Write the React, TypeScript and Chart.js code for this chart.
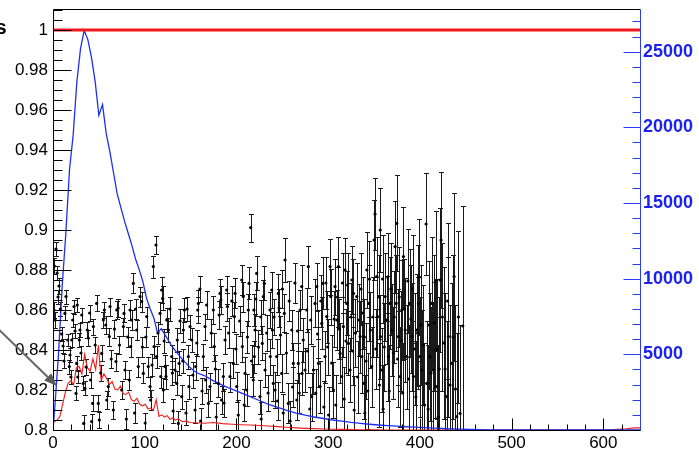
import React, { useEffect, useRef } from 'react';
import { Chart, registerables } from 'chart.js';

Chart.register(...registerables);

const FONT = "'Liberation Sans', Arial, Helvetica, sans-serif";

// axis ranges
const X_MIN = 0;
const X_MAX = 640;
const Y_MIN = 0.8;
const Y_MAX = 1.0105;
const Y2_MIN = 0;
const Y2_MAX = 27820;

// tick labels
const xTicks = [0, 100, 200, 300, 400, 500, 600];
const xTickLabels = ['0', '100', '200', '300', '400', '500', '600'];
const yTicks = [0.8, 0.82, 0.84, 0.86, 0.88, 0.9, 0.92, 0.94, 0.96, 0.98, 1.0];
const yTickLabels = ['0.8', '0.82', '0.84', '0.86', '0.88', '0.9', '0.92', '0.94', '0.96', '0.98', '1'];
const y2Ticks = [5000, 10000, 15000, 20000, 25000];
const y2TickLabels = ['5000', '10000', '15000', '20000', '25000'];

// reference level (red line)
const refLevel = 1;

// blue histogram: fine bins of width 4 starting at 0, then coarse bins of width 10 starting at 160
const blueFineStart = 0;
const blueFineWidth = 4;
const blueFine = [
  1500, 5000, 9500, 13000, 17200, 19500, 23000, 25200, 26400, 25800,
  24600, 23000, 20800, 21500, 19600, 18400, 17000, 15600, 14700, 13800,
  13000, 12200, 11300, 10600, 9800, 8700, 8000, 7400, 6400, 6700,
  6300, 5900, 5500, 5200, 4900, 4600, 4350, 4100, 3900, 3750,
];
const blueCoarseStart = 160;
const blueCoarseWidth = 10;
const blueCoarse = [
  3600, 3250, 2950, 2700, 2450, 2200, 1950, 1700, 1500, 1300,
  1120, 980, 860, 760, 660, 580, 500, 440, 380, 330,
  290, 250, 215, 185, 155, 125, 100, 75, 55, 35,
  20, 10,
];

// red histogram: fine bins of width 3 from 0, coarse width 10 from 150, tail near the right edge
const redFineStart = 0;
const redFineWidth = 3;
const redFine = [
  550, 650, 900, 1700, 2500, 3100, 3250, 3000, 4100, 4200,
  3700, 5000, 4100, 3900, 4700, 4000, 5600, 3300, 3700, 3400,
  3000, 3200, 2700, 2650, 2900, 2400, 2350, 2500, 2000, 1900,
  2100, 1700, 1600, 1700, 1400, 1450, 1300, 2000, 900, 1000,
  850, 950, 700, 800, 650, 750, 600, 550, 600, 500,
];
const redCoarseStart = 150;
const redCoarseWidth = 10;
const redCoarse = [
  480, 450, 500, 420, 380, 350, 330, 300, 260, 220,
  180, 140, 110, 90, 70, 50, 40, 30, 20, 10, 5,
];
const redTailStart = 600;
const redTailWidth = 10;
const redTail = [0, 40, 80, 140];

// black points with error bars: [x, y, error]
const ptsA: [number, number, number][] = [
  [1.5, 0.882, 0.004], [3.3, 0.8905, 0.0035], [4.5, 0.8785, 0.0035], [1.0, 0.86, 0.004],
  [2.2, 0.855, 0.004], [6.5, 0.872, 0.004], [9.5, 0.848, 0.0035], [11, 0.842, 0.0035],
  [13, 0.8583, 0.0035], [14.2, 0.8667, 0.0035], [16, 0.845, 0.003], [17.8, 0.8317, 0.0035],
  [18.5, 0.8375, 0.0035], [20.4, 0.845, 0.0035], [21.5, 0.855, 0.0035], [22.9, 0.8617, 0.0035],
  [25.1, 0.8183, 0.0035], [25.8, 0.8333, 0.0035], [27, 0.8265, 0.003], [28.7, 0.845, 0.0035],
  [29.4, 0.85, 0.0035], [31.3, 0.8575, 0.0035], [33, 0.8233, 0.0035], [33.5, 0.8033, 0.004],
  [34.9, 0.8208, 0.0035], [37.4, 0.85, 0.004], [38.5, 0.846, 0.004], [41, 0.825, 0.004],
  [42.1, 0.8042, 0.004], [43.2, 0.8133, 0.004], [44, 0.8517, 0.004], [47.6, 0.8633, 0.004],
  [49.4, 0.8133, 0.004], [50.5, 0.805, 0.004], [53.1, 0.8383, 0.004], [54.9, 0.855, 0.004],
  [56, 0.86, 0.004], [58.6, 0.815, 0.0045], [60.3, 0.8217, 0.0045], [61.4, 0.8467, 0.0045],
  [62.2, 0.8617, 0.0045], [65.8, 0.81, 0.0045], [68.7, 0.8342, 0.0045], [69.5, 0.86, 0.0045],
  [71, 0.861, 0.0045], [74.9, 0.82, 0.0045], [76.7, 0.8517, 0.0045], [77.4, 0.8583, 0.0045],
  [78.5, 0.83, 0.0045], [80, 0.8055, 0.005], [83.2, 0.825, 0.005], [84, 0.86, 0.005],
  [84.7, 0.8417, 0.005], [85.8, 0.855, 0.005], [87.6, 0.8733, 0.005], [89, 0.8085, 0.005],
  [91.3, 0.85, 0.005], [93, 0.8317, 0.005], [94.9, 0.8667, 0.005], [96.7, 0.8642, 0.005],
  [98.5, 0.8283, 0.005], [100.5, 0.8035, 0.005], [102.2, 0.8567, 0.005], [103.9, 0.8317, 0.005],
  [105.8, 0.8217, 0.005], [106.5, 0.815, 0.005], [109.4, 0.8817, 0.0055], [110.2, 0.8417, 0.0055],
  [112.3, 0.8925, 0.0045], [113, 0.8367, 0.0055], [116.7, 0.8583, 0.0055], [117.5, 0.8267, 0.0055],
  [118.5, 0.87, 0.0065], [119.6, 0.8658, 0.006], [120.3, 0.82, 0.006], [122.1, 0.8317, 0.006],
  [123.2, 0.8267, 0.006], [124, 0.855, 0.006], [125.8, 0.85, 0.006], [129.4, 0.8367, 0.006],
  [131, 0.8095, 0.006], [133, 0.83, 0.006], [134.9, 0.8233, 0.006], [135.5, 0.845, 0.006],
  [136.6, 0.8033, 0.006], [137.5, 0.8333, 0.006],
  [5.5, 0.8665, 0.0035], [8, 0.8605, 0.0035], [12, 0.8345, 0.0035], [19.5, 0.8265, 0.0035],
  [24, 0.8495, 0.0035], [26.5, 0.8625, 0.0035], [30.5, 0.8385, 0.0035], [36, 0.8315, 0.004],
  [40, 0.8585, 0.004], [46, 0.8425, 0.004], [52, 0.8285, 0.004], [57.5, 0.8525, 0.0045],
  [63.5, 0.8355, 0.0045], [67, 0.8505, 0.0045], [72.5, 0.8425, 0.0045], [81.5, 0.8465, 0.005],
  [90, 0.8605, 0.005], [97.5, 0.8415, 0.005], [101.3, 0.8465, 0.005], [108, 0.8325, 0.0055],
  [114.5, 0.8485, 0.0055], [121.2, 0.8445, 0.006], [127.5, 0.8605, 0.006], [130.2, 0.8285, 0.006],
  [138.5, 0.8545, 0.006],
];
const ptsB: [number, number, number][] = [
  [140.3, 0.8167, 0.006], [142.1, 0.85, 0.006], [143.2, 0.86, 0.006], [145, 0.8085, 0.006],
  [147.6, 0.8367, 0.006], [148.2, 0.8217, 0.006], [149.4, 0.8517, 0.006], [151.3, 0.845, 0.006],
  [154.9, 0.81, 0.0065], [155.6, 0.8317, 0.0065], [157.8, 0.86, 0.0065], [158.5, 0.8633, 0.0065],
  [161, 0.8045, 0.0065], [163.9, 0.8367, 0.0065], [165.8, 0.8517, 0.0065], [166.5, 0.825, 0.0065],
  [169.4, 0.8133, 0.007], [171.2, 0.8217, 0.007], [174.8, 0.86, 0.007], [175.9, 0.8417, 0.007],
  [178, 0.8065, 0.007], [180.3, 0.8233, 0.007], [182.1, 0.8683, 0.007], [183, 0.865, 0.007],
  [183.8, 0.815, 0.007], [185.7, 0.8267, 0.007], [187.6, 0.845, 0.007], [189.4, 0.87, 0.007],
  [190.2, 0.8617, 0.007], [193, 0.8267, 0.0075], [196.6, 0.8333, 0.0075], [197.7, 0.8567, 0.0075],
  [198.5, 0.8683, 0.0075], [200.3, 0.8217, 0.0075], [202, 0.8075, 0.0075], [205.8, 0.875, 0.0075],
  [206.5, 0.8417, 0.0075], [207.5, 0.8667, 0.0075], [209.4, 0.8283, 0.008], [211.2, 0.82, 0.008],
  [213, 0.86, 0.008], [213.7, 0.8733, 0.008], [215.6, 0.9012, 0.007], [218.4, 0.825, 0.008],
  [219, 0.86, 0.008], [219.5, 0.8367, 0.008], [220.3, 0.85, 0.008], [222.1, 0.8783, 0.0085],
  [225.7, 0.8167, 0.0085], [227, 0.8055, 0.0085], [228.2, 0.8433, 0.0085], [229.3, 0.8667, 0.0085],
  [230.4, 0.8733, 0.0085], [231.2, 0.83, 0.0085], [236.6, 0.86, 0.009], [236.9, 0.8367, 0.009],
  [238.5, 0.87, 0.009], [239.2, 0.85, 0.009], [240.2, 0.8233, 0.009], [242.1, 0.82, 0.009],
  [243.9, 0.8367, 0.009], [245.7, 0.8683, 0.0095], [246.5, 0.861, 0.0095], [249.4, 0.8283, 0.0095],
  [251, 0.8085, 0.0095], [252.2, 0.8583, 0.0095], [253, 0.885, 0.011], [256.6, 0.8133, 0.01],
  [258.5, 0.8045, 0.01], [260.3, 0.85, 0.01], [262, 0.8333, 0.01], [265.8, 0.815, 0.01],
  [267.5, 0.8333, 0.01], [269.4, 0.86, 0.01],
  [141.5, 0.8345, 0.006], [146.2, 0.8605, 0.006], [152.5, 0.8275, 0.0065], [156.8, 0.8435, 0.0065],
  [160.2, 0.8705, 0.0065], [162.5, 0.8195, 0.0065], [167.5, 0.8625, 0.007], [172.5, 0.8485, 0.007],
  [177, 0.8305, 0.007], [181.2, 0.8575, 0.007], [186.5, 0.8135, 0.007], [191.5, 0.8485, 0.0075],
  [195, 0.8645, 0.0075], [199.5, 0.8405, 0.0075], [203.5, 0.8545, 0.0075], [208.5, 0.8125, 0.008],
  [212, 0.8465, 0.008], [216.5, 0.8345, 0.008], [221.2, 0.8655, 0.0085], [224, 0.8415, 0.0085],
  [226.5, 0.8565, 0.0085], [233, 0.8485, 0.009], [234.5, 0.8185, 0.009], [241, 0.8565, 0.009],
  [244.8, 0.8145, 0.0095], [248, 0.8475, 0.0095], [250.2, 0.8705, 0.0095], [254.5, 0.8385, 0.01],
  [257.5, 0.8645, 0.01], [261.2, 0.8215, 0.01], [263.8, 0.8735, 0.01], [266.6, 0.8495, 0.01],
  [268.5, 0.8185, 0.01],
];
const ptsC: [number, number, number][] = [
  [271.2, 0.8717, 0.011], [271.5, 0.8283, 0.011], [274.8, 0.83, 0.011], [276.6, 0.86, 0.011],
  [278.4, 0.8817, 0.0105], [280, 0.8105, 0.011], [282.1, 0.8167, 0.012], [283.9, 0.83, 0.012],
  [285.7, 0.8633, 0.012], [287.6, 0.8717, 0.012], [289.4, 0.8333, 0.012], [291.2, 0.8217, 0.013],
  [293, 0.8533, 0.013], [294.1, 0.8733, 0.013], [296.6, 0.8367, 0.013], [298.5, 0.8567, 0.013],
  [300.5, 0.8075, 0.014], [302.1, 0.8817, 0.014], [302.8, 0.8667, 0.014], [305.7, 0.82, 0.014],
  [307.5, 0.8717, 0.014], [309.4, 0.855, 0.015], [311.2, 0.8817, 0.015], [313, 0.8383, 0.015],
  [314.8, 0.8267, 0.015], [316.6, 0.8517, 0.015], [318.4, 0.88, 0.016], [320.3, 0.8633, 0.016],
  [322.1, 0.8433, 0.016], [323.9, 0.83, 0.016], [325.8, 0.875, 0.017], [327.6, 0.8683, 0.017],
  [328.4, 0.81, 0.017], [331.2, 0.8667, 0.017], [333.1, 0.855, 0.018], [334.9, 0.8467, 0.018],
  [336.8, 0.8367, 0.018], [338.6, 0.8233, 0.018], [340, 0.8085, 0.019], [342.2, 0.88, 0.019],
  [344.1, 0.8633, 0.019], [346, 0.85, 0.019], [347.5, 0.8317, 0.02], [350.1, 0.895, 0.02],
  [351.1, 0.908, 0.018], [353, 0.8767, 0.02], [353.7, 0.8567, 0.02], [356.8, 0.9, 0.021],
  [357, 0.8467, 0.021], [358.4, 0.83, 0.021], [360, 0.8105, 0.022], [362.1, 0.8667, 0.022],
  [363.9, 0.855, 0.022], [365.7, 0.8367, 0.022], [367.5, 0.8633, 0.023], [369.4, 0.85, 0.023],
  [373, 0.8917, 0.023], [374.8, 0.9033, 0.024], [374.1, 0.8633, 0.024], [376.6, 0.8467, 0.024],
  [378.4, 0.8267, 0.025], [380.3, 0.86, 0.025], [382.1, 0.8867, 0.025], [384, 0.85, 0.026],
  [385.8, 0.8367, 0.026], [388.7, 0.8633, 0.027], [391.1, 0.8467, 0.027], [393, 0.8267, 0.028],
  [396.6, 0.85, 0.028], [398.5, 0.8633, 0.029], [400.2, 0.8367, 0.03], [402, 0.83, 0.03],
  [406.8, 0.903, 0.0255], [407.5, 0.8233, 0.031], [409, 0.8105, 0.032], [411.1, 0.8367, 0.032],
  [413, 0.8633, 0.033], [414.7, 0.83, 0.034], [416.6, 0.84, 0.034], [418.4, 0.8217, 0.035],
  [420, 0.8065, 0.036], [422, 0.875, 0.036], [423.1, 0.895, 0.034], [426, 0.8435, 0.038],
  [429.3, 0.8167, 0.038], [431.1, 0.8467, 0.04], [434.8, 0.8333, 0.04], [437.3, 0.8767, 0.042],
  [440.2, 0.8067, 0.042], [443.8, 0.8083, 0.044], [446.8, 0.852, 0.06],
  [272.8, 0.845, 0.011], [277.5, 0.8395, 0.011], [281, 0.855, 0.012], [286.5, 0.8185, 0.012],
  [288.5, 0.848, 0.012], [292, 0.8645, 0.013], [295.3, 0.8115, 0.013], [297.5, 0.8735, 0.013],
  [299.5, 0.8415, 0.014], [303.8, 0.8335, 0.014], [306.5, 0.8555, 0.014], [308.3, 0.8125, 0.015],
  [310.3, 0.8665, 0.015], [312.1, 0.8505, 0.015], [315.7, 0.8735, 0.015], [317.5, 0.8155, 0.016],
  [319.4, 0.8445, 0.016], [321.2, 0.8725, 0.016], [324.9, 0.8565, 0.017], [326.7, 0.8395, 0.017],
  [329.8, 0.8485, 0.017], [332.2, 0.8265, 0.018], [335.8, 0.8705, 0.018], [337.7, 0.8585, 0.018],
  [339.5, 0.8465, 0.019], [341.3, 0.8345, 0.019], [343.2, 0.8195, 0.019], [345, 0.8755, 0.019],
  [348.8, 0.8565, 0.02], [352, 0.8405, 0.02], [355, 0.8665, 0.021], [355.9, 0.8225, 0.021],
  [359.3, 0.8755, 0.022], [361.2, 0.8415, 0.022], [364.8, 0.8765, 0.022], [366.6, 0.8195, 0.023],
  [368.4, 0.8705, 0.023], [371, 0.8385, 0.023], [372, 0.8565, 0.023], [375.7, 0.8355, 0.024],
  [377.5, 0.8665, 0.025], [379.4, 0.8445, 0.025], [381.2, 0.8185, 0.025], [383, 0.8605, 0.025],
  [386.8, 0.8745, 0.026], [387.7, 0.8255, 0.027], [390.2, 0.8555, 0.027], [392, 0.8705, 0.027],
  [394.5, 0.8405, 0.028], [395.7, 0.8165, 0.028], [397.5, 0.8485, 0.028], [399.4, 0.8765, 0.029],
  [401.1, 0.8525, 0.03], [403.8, 0.8425, 0.03], [405, 0.8125, 0.031], [410, 0.8525, 0.032],
  [412.1, 0.8285, 0.033], [415.6, 0.8535, 0.034], [417.5, 0.8745, 0.035], [419.2, 0.8405, 0.035],
  [421.1, 0.8305, 0.036], [424.5, 0.8565, 0.037], [427.5, 0.8305, 0.038], [430.2, 0.8645, 0.039],
  [432.9, 0.8225, 0.04], [436.2, 0.8465, 0.041], [438.8, 0.8205, 0.042], [442, 0.8565, 0.043],
];

// annotation arrow (data coordinates, tail -> tip)
const arrowTail = { x: -63, y: 0.852 };
const arrowTip = { x: 4.4, y: 0.822 };

// histogram drawn as a polyline through bin centres
function histPoints(segments: { start: number; width: number; values: number[] }[]) {
  const out: { x: number; y: number }[] = [];
  for (const seg of segments) {
    seg.values.forEach((v, i) => {
      out.push({ x: seg.start + (i + 0.5) * seg.width, y: v });
    });
  }
  return out;
}

const allPts = [...ptsA, ...ptsB, ...ptsC];

const rootPlugin = {
  id: 'rootStyle',
  beforeDatasetsDraw(chart: any) {
    const { ctx, chartArea: a, scales } = chart;
    const xs = scales.x;
    const ys = scales.y;
    ctx.save();
    ctx.beginPath();
    ctx.rect(a.left, a.top, a.right - a.left, a.bottom - a.top);
    ctx.clip();
    ctx.strokeStyle = '#1a1a1a';
    ctx.lineWidth = 1;
    for (const [x, y, e] of allPts) {
      const px = Math.round(xs.getPixelForValue(x)) + 0.5;
      const lo = Math.round(ys.getPixelForValue(y - e)) + 0.5;
      const hi = Math.round(ys.getPixelForValue(y + e)) + 0.5;
      ctx.beginPath();
      ctx.moveTo(px, lo);
      ctx.lineTo(px, hi);
      ctx.moveTo(px - 2.5, lo);
      ctx.lineTo(px + 2.5, lo);
      ctx.moveTo(px - 2.5, hi);
      ctx.lineTo(px + 2.5, hi);
      ctx.stroke();
    }
    ctx.restore();
  },
  afterDraw(chart: any) {
    const { ctx, chartArea: a, scales } = chart;
    const xs = scales.x;
    const ys = scales.y;
    const y2 = scales.y2;
    ctx.save();
    const L = a.left + 0.5;
    const R = a.right + 0.5;
    const T = a.top + 0.5;
    const B = a.bottom + 0.5;
    ctx.lineWidth = 1;
    ctx.strokeStyle = '#000';
    ctx.beginPath();
    ctx.moveTo(L, B);
    ctx.lineTo(L, T);
    ctx.lineTo(R, T);
    ctx.moveTo(L, B);
    ctx.lineTo(R, B);
    ctx.stroke();
    ctx.beginPath();
    for (let k = 0; k <= 42; k++) {
      const v = Y_MIN + k * 0.005;
      if (v > Y_MAX) break;
      const py = Math.round(ys.getPixelForValue(v)) + 0.5;
      const len = k % 4 === 0 ? 18 : 9;
      ctx.moveTo(L, py);
      ctx.lineTo(L + len, py);
    }
    for (let k = 0; k <= 32; k++) {
      const v = X_MIN + k * 20;
      const px = Math.round(xs.getPixelForValue(v)) + 0.5;
      const len = k % 5 === 0 ? 12 : 6;
      ctx.moveTo(px, B);
      ctx.lineTo(px, B - len);
    }
    ctx.stroke();
    ctx.strokeStyle = '#2a3cf5';
    ctx.beginPath();
    ctx.moveTo(R, T);
    ctx.lineTo(R, B);
    for (let k = 1; k <= 27; k++) {
      const v = k * 1000;
      const py = Math.round(y2.getPixelForValue(v)) + 0.5;
      const len = k % 5 === 0 ? 17 : 8;
      ctx.moveTo(R, py);
      ctx.lineTo(R - len, py);
    }
    ctx.stroke();

    const tx = xs.getPixelForValue(arrowTail.x);
    const ty = ys.getPixelForValue(arrowTail.y);
    const hx = xs.getPixelForValue(arrowTip.x);
    const hy = ys.getPixelForValue(arrowTip.y);
    const ang = Math.atan2(hy - ty, hx - tx);
    const headLen = 13;
    const headW = 5;
    const bx = hx - headLen * Math.cos(ang);
    const by = hy - headLen * Math.sin(ang);
    ctx.strokeStyle = '#666';
    ctx.lineWidth = 2;
    ctx.beginPath();
    ctx.moveTo(tx, ty);
    ctx.lineTo(bx, by);
    ctx.stroke();
    ctx.fillStyle = '#5a5a5a';
    ctx.beginPath();
    ctx.moveTo(hx, hy);
    ctx.lineTo(bx + headW * Math.sin(ang), by - headW * Math.cos(ang));
    ctx.lineTo(bx - headW * Math.sin(ang), by + headW * Math.cos(ang));
    ctx.closePath();
    ctx.fill();

    ctx.fillStyle = '#000';
    ctx.font = `bold 20px ${FONT}`;
    ctx.textAlign = 'right';
    ctx.textBaseline = 'alphabetic';
    ctx.fillText('s', 6.5, 34);
    ctx.restore();
  },
};

export default function App() {
  const ref = useRef<HTMLCanvasElement | null>(null);
  useEffect(() => {
    if (!ref.current) return;
    const blueData = [
      { x: X_MIN, y: 0 },
      ...histPoints([
        { start: blueFineStart, width: blueFineWidth, values: blueFine },
        { start: blueCoarseStart, width: blueCoarseWidth, values: blueCoarse },
      ]),
      { x: blueCoarseStart + blueCoarse.length * blueCoarseWidth, y: 0 },
      { x: X_MAX, y: 0 },
    ];
    const redData = [
      { x: X_MIN, y: 0 },
      { x: X_MIN, y: redFine[0] },
      ...histPoints([
        { start: redFineStart, width: redFineWidth, values: redFine },
        { start: redCoarseStart, width: redCoarseWidth, values: redCoarse },
      ]),
      { x: redCoarseStart + redCoarse.length * redCoarseWidth, y: 0 },
      ...histPoints([{ start: redTailStart, width: redTailWidth, values: redTail }]),
      { x: X_MAX, y: redTail[redTail.length - 1] },
    ];

    const chart = new Chart(ref.current, {
      type: 'scatter',
      data: {
        datasets: [
          {
            type: 'scatter',
            data: allPts.map(([x, y]) => ({ x, y })),
            yAxisID: 'y',
            pointRadius: 1.6,
            pointBackgroundColor: '#000',
            pointBorderWidth: 0,
          },
          {
            type: 'line',
            data: [
              { x: X_MIN, y: refLevel },
              { x: X_MAX, y: refLevel },
            ],
            yAxisID: 'y',
            borderColor: '#f2171c',
            borderWidth: 3,
            pointRadius: 0,
            fill: false,
          },
          {
            type: 'line',
            data: blueData,
            yAxisID: 'y2',
            borderColor: '#1f2ff2',
            borderWidth: 1.3,
            pointRadius: 0,
            tension: 0,
            fill: false,
          },
          {
            type: 'line',
            data: redData,
            yAxisID: 'y2',
            borderColor: '#f21a1a',
            borderWidth: 1.1,
            pointRadius: 0,
            tension: 0,
            fill: false,
          },
        ],
      } as any,
      options: {
        responsive: false,
        animation: false,
        devicePixelRatio: 1,
        layout: { padding: { top: 9, left: 0, right: 0, bottom: 0 } },
        plugins: { legend: { display: false }, tooltip: { enabled: false } },
        scales: {
          x: {
            type: 'linear',
            position: 'bottom',
            min: X_MIN,
            max: X_MAX,
            grid: { display: false, drawTicks: false },
            border: { display: false },
            afterBuildTicks: (s: any) => {
              s.ticks = xTicks.map((v) => ({ value: v }));
            },
            afterFit: (s: any) => {
              s.height = 19;
              s.paddingLeft = 0;
              s.paddingRight = 0;
            },
            ticks: {
              color: '#000',
              font: { family: FONT, size: 17 },
              padding: 3,
              maxRotation: 0,
              autoSkip: false,
              callback: (_v: any, i: number) => xTickLabels[i],
            },
          },
          y: {
            type: 'linear',
            position: 'left',
            min: Y_MIN,
            max: Y_MAX,
            grid: { display: false, drawTicks: false },
            border: { display: false },
            afterBuildTicks: (s: any) => {
              s.ticks = yTicks.map((v) => ({ value: v }));
            },
            afterFit: (s: any) => {
              s.width = 53;
              s.paddingTop = 0;
              s.paddingBottom = 0;
            },
            ticks: {
              color: '#000',
              font: { family: FONT, size: 17 },
              padding: 5,
              autoSkip: false,
              callback: (_v: any, i: number) => yTickLabels[i],
            },
          },
          y2: {
            type: 'linear',
            position: 'right',
            min: Y2_MIN,
            max: Y2_MAX,
            grid: { display: false, drawTicks: false },
            border: { display: false },
            afterBuildTicks: (s: any) => {
              s.ticks = y2Ticks.map((v) => ({ value: v }));
            },
            afterFit: (s: any) => {
              s.width = 59;
              s.paddingTop = 0;
              s.paddingBottom = 0;
            },
            ticks: {
              color: '#1a22f0',
              font: { family: FONT, size: 18, weight: 'bold' },
              padding: 3,
              autoSkip: false,
              callback: (_v: any, i: number) => y2TickLabels[i],
            },
          },
        },
      } as any,
      plugins: [rootPlugin],
    });
    return () => chart.destroy();
  }, []);

  return (
    <div style={{ position: 'absolute', left: 0, top: 0, width: 699, height: 449 }}>
      <canvas ref={ref} width={699} height={449} style={{ display: 'block' }} />
    </div>
  );
}
